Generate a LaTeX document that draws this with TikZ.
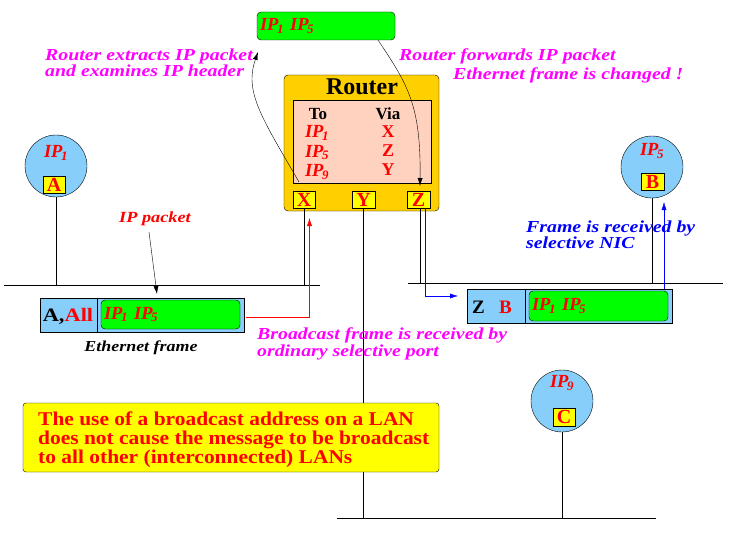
\documentclass[tikz,border=0pt]{standalone}
\usepackage{fontspec}
\setmainfont{Liberation Serif}
\newfontfamily\widefont{Liberation Serif}[FakeStretch=1.18]
\newfontfamily\notefont{Liberation Serif}[FakeStretch=1.1]
\usetikzlibrary{arrows.meta}
\definecolor{gold}{RGB}{255,208,0}
\definecolor{pinkbg}{RGB}{255,210,192}
\definecolor{ltblue}{RGB}{135,206,250}
\definecolor{brgreen}{RGB}{0,255,0}
\definecolor{mag}{RGB}{255,0,255}
\definecolor{yel}{RGB}{255,255,0}
\newcommand\ipn[1]{\textit{IP}\kern-1.5pt\textsubscript{#1}}
\begin{document}
\begin{tikzpicture}[x=1pt,y=-1pt,
  lbl/.style={font=\widefont\fontsize{16.8}{16.5}\selectfont\bfseries\itshape, align=left, inner sep=0pt},
  greenbox/.style={draw, fill=brgreen, rounded corners=4pt, inner sep=0pt},
  framebox/.style={draw, fill=ltblue, inner sep=0pt},
  portbox/.style={draw, fill=yel, inner sep=0pt, text=red, font=\fontsize{20}{20}\selectfont\bfseries},
  host/.style={draw, circle, fill=ltblue, minimum size=62pt, inner sep=0pt},
  iptxt/.style={text=red, font=\fontsize{18.5}{18.5}\selectfont\bfseries\itshape, inner sep=0pt},
  viatxt/.style={text=red, font=\fontsize{18}{18}\selectfont\bfseries, inner sep=0pt},
  notetxt/.style={text=red, font=\notefont\fontsize{19.5}{18}\selectfont\bfseries, anchor=base west, inner sep=0pt},
  tip/.style={-{Latex[length=8pt,width=5pt]}},
  lan/.style={draw, line width=0.8pt}
]
\useasboundingbox (0,0) rectangle (739,535);

% LAN lines
\coordinate (l1a) at (4,285); \coordinate (l1b) at (320,285);
\coordinate (l2a) at (408,283); \coordinate (l2b) at (723,283);
\coordinate (l3a) at (337,518); \coordinate (l3b) at (656,518);
\draw[lan] (l1a) -- (l1b);
\draw[lan] (l2a) -- (l2b);
\draw[lan] (l3a) -- (l3b);

% Router
\node[draw, fill=gold, rounded corners=4pt, minimum width=155pt, minimum height=136pt, inner sep=0pt] (router) at (361.5,143) {};
\node[font=\fontsize{24}{24}\selectfont\bfseries, inner sep=0pt] (rtitle) at (362,87) {Router};
\node[draw, fill=pinkbg, minimum width=138pt, minimum height=83pt, inner sep=0pt] (table) at (362,141.5) {};
\node[font=\fontsize{17}{17}\selectfont\bfseries, inner sep=0pt] (to) at (318,114) {To};
\node[font=\fontsize{17}{17}\selectfont\bfseries, inner sep=0pt] (via) at (388,114) {Via};
\node[iptxt] (r1) at (317,133) {\ipn1};
\node[iptxt] (r5) at (317,152.5) {\ipn5};
\node[iptxt] (r9) at (317,172) {\ipn9};
\node[viatxt] (v1) at (388,131.5) {X};
\node[viatxt] (v5) at (388,150.5) {Z};
\node[viatxt] (v9) at (388,170) {Y};
\node[portbox, minimum width=22pt, minimum height=17pt] (px) at (304,199.5) {X};
\node[portbox, minimum width=23pt, minimum height=17pt] (py) at (363.5,199.5) {Y};
\node[portbox, minimum width=23pt, minimum height=17pt] (pz) at (418.5,199.5) {Z};

% top packet
\node[greenbox, minimum width=138pt, minimum height=28pt, text width=132pt, align=left, iptxt] (pkt) at (326,26) {\ipn1 \ipn5};

% hosts
\node[host] (ha) at (56,166) {};
\node[iptxt] (ha1) at (56,153) {\ipn1};
\node[portbox, minimum width=22pt, minimum height=17pt] (na) at (54,184.5) {A};
\node[host] (hb) at (652,167) {};
\node[iptxt] (hb5) at (652,151) {\ipn5};
\node[portbox, minimum width=23pt, minimum height=17pt] (nb) at (652.5,181.5) {B};
\node[host] (hc) at (562,401) {};
\node[iptxt] (hc9) at (562,383) {\ipn9};
\node[portbox, minimum width=22pt, minimum height=18pt] (nc) at (564,417) {C};

% host drops
\draw (ha.south) -- (ha.south |- l1a);
\draw (hb.south) -- (hb.south |- l2a);
\draw (hc.south) -- (hc.south |- l3a);

% router drops
\draw (px.south) -- (px.south |- l1a);
\draw (py.south) -- (py.south |- l3a);
\draw ([xshift=2pt]pz.south) -- ([xshift=2pt]pz.south |- l2a);

% frame 1
\node[framebox, minimum width=204pt, minimum height=34pt] (f1) at (142,315) {};
\draw (97,298) -- (97,332);
\node[font=\widefont\fontsize{19}{19}\selectfont\bfseries, inner sep=0pt] (f1addr) at (68,316) {A,\textcolor{red}{All}};
\node[greenbox, minimum width=139pt, minimum height=29pt, text width=133pt, align=left, iptxt] (f1p) at (170.5,314.5) {\ipn1 \ipn5};
\node[lbl, font=\widefont\fontsize{15.2}{15}\selectfont\bfseries\itshape] (ethlbl) at (141,348) {Ethernet frame};

% frame 2
\node[framebox, minimum width=205pt, minimum height=34pt] (f2) at (569.5,306) {};
\draw (525,289) -- (525,323);
\node[font=\fontsize{19}{19}\selectfont\bfseries, inner sep=0pt] (f2z) at (478.5,307) {Z};
\node[text=red, font=\fontsize{19}{19}\selectfont\bfseries, inner sep=0pt] (f2b) at (505.5,307) {B};
\node[greenbox, minimum width=139pt, minimum height=30pt, text width=133pt, align=left, iptxt] (f2p) at (598.5,306) {\ipn1 \ipn5};

% IP packet label
\node[lbl, text=red, font=\widefont\fontsize{15.5}{15}\selectfont\bfseries\itshape] (ippkt) at (155,219) {IP packet};
\coordinate (ipt) at (157,294);
\draw[tip] (149,232) -- (ipt);

% red broadcast arrow
\coordinate (rtip) at (309.5,218);
\draw[red, tip] ([xshift=2pt]f1.east |- 0,317) -| (rtip);

% blue arrows
\coordinate (btip) at (458,296);
\draw[blue, tip] ([xshift=7pt]pz.south) |- (btip);
\coordinate (btip2) at (664,202);
\draw[blue, tip] (664,289) -- (btip2);

% curved arrows
\coordinate (c1s) at (299,182);
\coordinate (c1e) at (258,52);
\draw[tip] (c1s) .. controls (262,118) and (244,92) .. (c1e);
\coordinate (c2e) at (420,186);
\draw[tip] (378,40) .. controls (408,85) and (421,105) .. (c2e);

% labels
\node[lbl, text=mag, anchor=west] (ext) at (45,63) {Router extracts IP packet\\and examines IP header};
\node[lbl, text=mag, anchor=west] (fwd1) at (399,56) {Router forwards IP packet};
\node[lbl, text=mag, anchor=west] (fwd2) at (453,75) {Ethernet frame is changed !};
\node[lbl, text=blue, anchor=west] (nic) at (526,235) {Frame is received by\\selective NIC};
\node[lbl, text=mag, anchor=west] (bcast) at (257,344) {Broadcast frame is received by\\ordinary selective port};

% note
\node[draw, fill=yel, rounded corners=3pt, minimum width=416pt, minimum height=69pt, inner sep=0pt] (note) at (231,437.5) {};
\node[notetxt] (note1) at (38,425) {The use of a broadcast address on a LAN};
\node[notetxt] (note2) at (38,444) {does not cause the message to be broadcast};
\node[notetxt] (note3) at (38,463) {to all other (interconnected) LANs};
\end{tikzpicture}
\end{document}
